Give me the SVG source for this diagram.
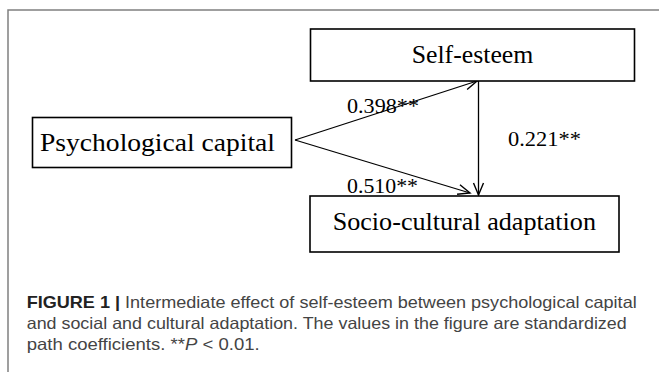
<svg xmlns="http://www.w3.org/2000/svg" width="659" height="372" viewBox="0 0 659 372">
<style>
.frame{fill:none;stroke:#808080;stroke-width:1.5}
.box{fill:#fff;stroke:#000;stroke-width:1.6}
.lbl{font-family:"Liberation Serif","Times New Roman",serif;font-size:26px;fill:#000}
.coef{font-family:"Liberation Serif","Times New Roman",serif;font-size:22px;fill:#000}
.edge{fill:none;stroke:#000;stroke-width:1.3}
.cap{font-family:"Liberation Sans",Arial,sans-serif;font-size:16.5px;fill:#444}
.capb{font-weight:bold;fill:#222}
</style>
<defs>
<marker id="arr" markerUnits="userSpaceOnUse" markerWidth="16" markerHeight="14" viewBox="-14 -7 16 14" refX="0" refY="0" orient="auto">
<path d="M-12,-5 L0,0 L-12,5" fill="none" stroke="#000" stroke-width="1.4"/>
</marker>
</defs>
<rect width="659" height="372" fill="#fff"/>
<path class="frame" d="M8,372 L8,10 L659,10"/>
<g id="connectors">
<line class="edge" x1="295" y1="140" x2="477" y2="81" marker-end="url(#arr)"/>
<line class="edge" x1="295" y1="140" x2="470" y2="193" marker-end="url(#arr)"/>
<line class="edge" x1="478.5" y1="81" x2="478.5" y2="195" marker-end="url(#arr)"/>
<text class="coef" x="347" y="113" textLength="72" lengthAdjust="spacingAndGlyphs">0.398**</text>
<text class="coef" x="347" y="193" textLength="71" lengthAdjust="spacingAndGlyphs">0.510**</text>
<text class="coef" x="508" y="146" textLength="73" lengthAdjust="spacingAndGlyphs">0.221**</text>
</g>
<g id="node-psychological-capital">
<rect class="box" x="32.5" y="117.5" width="259" height="50"/>
<text class="lbl" x="40" y="151" textLength="235" lengthAdjust="spacingAndGlyphs">Psychological capital</text>
</g>
<g id="node-self-esteem">
<rect class="box" x="310.5" y="29" width="324" height="52"/>
<text class="lbl" x="411.7" y="63" textLength="121.6" lengthAdjust="spacingAndGlyphs">Self-esteem</text>
</g>
<g id="node-socio-cultural-adaptation">
<rect class="box" x="310" y="196" width="309" height="56"/>
<text class="lbl" x="332.7" y="230" textLength="263.3" lengthAdjust="spacingAndGlyphs">Socio-cultural adaptation</text>
</g>
<g id="caption">
<text class="cap" x="26.7" y="307.5" textLength="610" lengthAdjust="spacingAndGlyphs"><tspan class="capb">FIGURE 1 |</tspan> Intermediate effect of self-esteem between psychological capital</text>
<text class="cap" x="26.7" y="328.5" textLength="600" lengthAdjust="spacingAndGlyphs">and social and cultural adaptation. The values in the figure are standardized</text>
<text class="cap" x="26.7" y="349.5" textLength="233" lengthAdjust="spacingAndGlyphs">path coefficients. **<tspan font-style="italic">P</tspan> &lt; 0.01.</text>
</g>
</svg>
